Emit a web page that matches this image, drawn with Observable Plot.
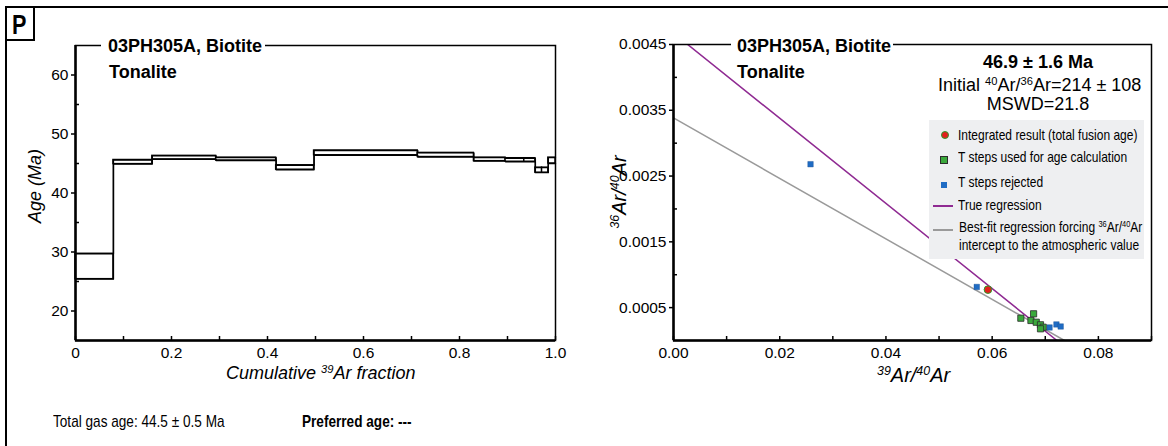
<!DOCTYPE html>
<html><head><meta charset="utf-8">
<script src="https://cdn.jsdelivr.net/npm/d3@7"></script>
<script src="https://cdn.jsdelivr.net/npm/@observablehq/plot@0.6"></script>
<style>
body{margin:0;background:#fff;font-family:"Liberation Sans",Arial,sans-serif;color:#000;}
#wrap{position:relative;width:1168px;height:446px;overflow:hidden;background:#fff;}
.abs{position:absolute;white-space:nowrap;line-height:1;}
.sup{position:relative;top:-0.55em;font-size:0.62em;}
#chartL,#chartR{position:absolute;top:0;}
#chartL{left:0;} #chartR{left:600px;}
.narrow{transform:scaleX(0.8);transform-origin:left center;}
</style></head>
<body><div id="wrap">
<div id="chartL"></div><div id="chartR"></div>
</div>
<script>
// ---------- Data ----------
// Age spectrum (left): step boundaries (cumulative 39Ar fraction) and age range per step (Ma)
const stepBounds = [0, 0.079, 0.160, 0.293, 0.418, 0.497, 0.713, 0.830, 0.896, 0.935, 0.958, 0.972, 0.985, 1.0];
const ageLow  = [25.4, 44.9, 45.7, 45.5, 43.95, 46.4, 46.1, 45.4, 45.3, 45.3, 43.45, 43.45, 45.0];
const ageHigh = [29.7, 45.6, 46.3, 46.0, 44.7, 47.2, 46.8, 46.0, 45.9, 45.9, 44.3, 44.3, 46.0];
const ageTicksMajor = [20, 30, 40, 50, 60];
const ageTicksMinor = [25, 35, 45, 55];
const fracTicksMajor = [0, 0.2, 0.4, 0.6, 0.8, 1.0];
const fracTicksMinor = [0.1, 0.3, 0.5, 0.7, 0.9];

// Isochron (right): 39Ar/40Ar vs 36Ar/40Ar
const usedX = [0.0654, 0.0678, 0.0673, 0.0683, 0.0691, 0.0696, 0.0691];
const usedY = [0.000339, 0.000406, 0.000304, 0.000278, 0.000239, 0.000202, 0.000178];
const rejX = [0.0258, 0.0571, 0.0708, 0.0721, 0.0729];
const rejY = [0.00268, 0.000814, 0.000198, 0.000244, 0.000213];
const integX = [0.0592];
const integY = [0.000773];
const trueRegX = [0, 0.0722];
const trueRegY = [0.004673, 0];
const atmRegX = [0, 0.0736];
const atmRegY = [0.003384, 0];
const isoYMajor = [0.0005, 0.0015, 0.0025, 0.0035, 0.0045];
const isoYMinor = [0.001, 0.002, 0.003, 0.004];
const isoXMajor = [0, 0.02, 0.04, 0.06, 0.08];
const isoXMinor = [0.01, 0.03, 0.05, 0.07, 0.09];

const FONT = '"Liberation Sans", Arial, sans-serif';
const PURPLE = "#8f2a92", GRAY = "#9a9a9a", GREEN = "#3aa83c", BLUE = "#1f6cc4", RED = "#e3201b";

// ---------- Left chart ----------
const steps = ageLow.map((lo, i) => ({x1: stepBounds[i], x2: stepBounds[i+1], lo, hi: ageHigh[i]}));
const upper = steps.map(s => ({x: s.x1, y: s.hi})).concat([{x: stepBounds[stepBounds.length-1], y: ageHigh[ageHigh.length-1]}]);
const lower = steps.map(s => ({x: s.x1, y: s.lo})).concat([{x: stepBounds[stepBounds.length-1], y: ageLow[ageLow.length-1]}]);

const left = Plot.plot({
  width: 580, height: 446,
  marginLeft: 75, marginRight: 25, marginTop: 45, marginBottom: 106,
  style: {fontFamily: FONT, fontSize: "15px", color: "#000", background: "transparent"},
  x: {domain: [0, 1]},
  y: {domain: [15, 65]},
  marks: [
    Plot.rect(steps, {x1: "x1", x2: "x2", y1: "lo", y2: "hi", fill: "white", stroke: "#000", strokeWidth: 1.4}),
    Plot.line(upper, {x: "x", y: "y", curve: "step-after", stroke: "#000", strokeWidth: 1.4}),
    Plot.line(lower, {x: "x", y: "y", curve: "step-after", stroke: "#000", strokeWidth: 1.4}),
    Plot.frame({stroke: "#000", strokeWidth: 1.5}),
    Plot.ruleX([0], {stroke: "#000", strokeWidth: 2.5}),
    Plot.ruleY([15], {stroke: "#000", strokeWidth: 2.5}),
    Plot.axisY({ticks: ageTicksMajor, tickSize: 4, tickPadding: 3, strokeWidth: 1.5, fontSize: 15.5, label: null, tickFormat: d => String(d)}),
    Plot.axisY({ticks: ageTicksMinor, tickSize: -4, strokeWidth: 1.5, label: null, tickFormat: () => ""}),
    Plot.axisX({ticks: fracTicksMajor, tickSize: -4, tickPadding: 10, strokeWidth: 1.5, fontSize: 15.5, label: null, tickFormat: d => d === 0 ? "0" : d.toFixed(1)}),
    Plot.axisX({ticks: fracTicksMinor, tickSize: -4, strokeWidth: 1.5, label: null, tickFormat: () => ""})
  ]
});
document.getElementById("chartL").appendChild(left);

// ---------- Right chart ----------
const used = usedX.map((x, i) => ({x, y: usedY[i]}));
const rej = rejX.map((x, i) => ({x, y: rejY[i]}));
const integ = integX.map((x, i) => ({x, y: integY[i]}));
const trueReg = trueRegX.map((x, i) => ({x, y: trueRegY[i]}));
const atmReg = atmRegX.map((x, i) => ({x, y: atmRegY[i]}));

const right = Plot.plot({
  width: 568, height: 446,
  marginLeft: 73, marginRight: 17, marginTop: 44, marginBottom: 106,
  style: {fontFamily: FONT, fontSize: "15px", color: "#000", background: "transparent"},
  x: {domain: [0, 0.09]},
  y: {domain: [0, 0.0045]},
  marks: [
    Plot.line(atmReg, {x: "x", y: "y", stroke: GRAY, strokeWidth: 1.5, clip: true}),
    Plot.line(trueReg, {x: "x", y: "y", stroke: PURPLE, strokeWidth: 1.5, clip: true}),
    Plot.dot(rej, {x: "x", y: "y", symbol: "square", r: 3.1, fill: BLUE, stroke: "#1a4f8f", strokeWidth: 0.4}),
    Plot.dot(used, {x: "x", y: "y", symbol: "square", r: 3.5, fill: GREEN, stroke: "#2b2b2b", strokeWidth: 0.8}),
    Plot.dot(integ, {x: "x", y: "y", r: 3.8, fill: RED, stroke: "#2c9a2c", strokeWidth: 1}),
    Plot.frame({stroke: "#000", strokeWidth: 1.5}),
    Plot.ruleX([0], {stroke: "#000", strokeWidth: 2.5}),
    Plot.ruleY([0], {stroke: "#000", strokeWidth: 2.5}),
    Plot.axisY({ticks: isoYMajor, tickSize: 4, tickPadding: 3, strokeWidth: 1.5, fontSize: 15.5, label: null, tickFormat: d => d.toFixed(4)}),
    Plot.axisY({ticks: isoYMinor, tickSize: -4, strokeWidth: 1.5, label: null, tickFormat: () => ""}),
    Plot.axisX({ticks: isoXMajor, tickSize: -4, tickPadding: 10, strokeWidth: 1.5, fontSize: 15.5, label: null, tickFormat: d => d.toFixed(2)}),
    Plot.axisX({ticks: isoXMinor, tickSize: -4, strokeWidth: 1.5, label: null, tickFormat: () => ""})
  ]
});
document.getElementById("chartR").appendChild(right);

// ---------- Text overlays ----------
const wrap = document.getElementById("wrap");
function addText(html, opts) {
  const d = document.createElement("div");
  d.className = "abs" + (opts.cls ? " " + opts.cls : "");
  d.innerHTML = html;
  const fs = opts.size || 15;
  d.style.fontSize = fs + "px";
  if (opts.bold) d.style.fontWeight = "bold";
  if (opts.italic) d.style.fontStyle = "italic";
  if (opts.bg) { d.style.background = opts.bg; }
  if (opts.pad) d.style.padding = opts.pad;
  if (opts.baseline !== undefined) d.style.top = (opts.baseline - 0.8465 * fs) + "px";
  if (opts.top !== undefined) d.style.top = opts.top + "px";
  if (opts.left !== undefined) d.style.left = opts.left + "px";
  if (opts.width !== undefined) { d.style.width = opts.width + "px"; d.style.textAlign = "center"; }
  if (opts.transform) d.style.transform = opts.transform;
  if (opts.origin) d.style.transformOrigin = opts.origin;
  wrap.appendChild(d);
  return d;
}
function addBox(style) {
  const d = document.createElement("div");
  d.style.position = "absolute";
  Object.assign(d.style, style);
  wrap.appendChild(d);
  return d;
}

// outer frame and panel letter box
addBox({left: "5px", top: "6px", width: "1200px", height: "500px", borderLeft: "2px solid #000", borderTop: "2px solid #000"});
addBox({left: "5px", top: "6px", width: "28px", height: "33px", borderRight: "2px solid #000", borderBottom: "2px solid #000"});
addText("P", {size: 27, bold: true, left: 12, baseline: 35, transform: "scaleX(0.8)", origin: "left center"});

// titles
addText("03PH305A, Biotite", {size: 18, bold: true, left: 101, baseline: 52, bg: "#fff", pad: "0 3px 0 7px"});
addText("Tonalite", {size: 18, bold: true, left: 109, baseline: 78});
addText("03PH305A, Biotite", {size: 18, bold: true, left: 731, baseline: 52, bg: "#fff", pad: "0 2px 0 6px"});
addText("Tonalite", {size: 18, bold: true, left: 737, baseline: 78});

// axis labels
const S = t => `<span class="sup">${t}</span>`;
addText("Age (Ma)", {size: 18, italic: true, left: 35, top: 186, transform: "translate(-50%,-50%) rotate(-90deg)"});
addText(`Cumulative ${S("39")}Ar fraction`, {size: 18, italic: true, left: 226, baseline: 379});
addText(`${S("36")}Ar/${S("40")}Ar`, {size: 20, italic: true, left: 619, top: 192, transform: "translate(-50%,-50%) rotate(-90deg)"});
addText(`${S("39")}Ar/${S("40")}Ar`, {size: 20, italic: true, left: 877, baseline: 382});

// stats block
addText("46.9 ± 1.6 Ma", {size: 18, bold: true, left: 938, width: 200, baseline: 68});
addText(`Initial ${S("40")}Ar/${S("36")}Ar=214 ± 108`, {size: 18, left: 938, width: 200, baseline: 91.5});
addText("MSWD=21.8", {size: 18, left: 938, width: 200, baseline: 110});

// legend
addBox({left: "929px", top: "120px", width: "215px", height: "139px", background: "#eeeff1"});
addBox({left: "940.5px", top: "131px", width: "6px", height: "6px", borderRadius: "50%", background: RED, border: "1px solid #2c9a2c"});
addBox({left: "940px", top: "156px", width: "6px", height: "6px", background: GREEN, border: "1px solid #2b2b2b"});
addBox({left: "940.5px", top: "181.5px", width: "6px", height: "6px", background: BLUE});
addBox({left: "933px", top: "204.8px", width: "20px", height: "2px", background: PURPLE});
addBox({left: "933px", top: "229px", width: "20px", height: "2px", background: GRAY});
addText("Integrated result (total fusion age)", {size: 15, left: 958, baseline: 139.5, cls: "narrow"});
addText("T steps used for age calculation", {size: 15, left: 958, baseline: 162, cls: "narrow"});
addText("T steps rejected", {size: 15, left: 958, baseline: 187, cls: "narrow"});
addText("True regression", {size: 15, left: 958, baseline: 210, cls: "narrow"});
addText(`Best-fit regression forcing ${S("36")}Ar/${S("40")}Ar`, {size: 15, left: 959, baseline: 232, cls: "narrow"});
addText("intercept to the atmospheric value", {size: 15, left: 959, baseline: 249.5, cls: "narrow"});

// bottom texts
addText("Total gas age: 44.5 ± 0.5 Ma", {size: 17, left: 53, baseline: 427, transform: "scaleX(0.8)", origin: "left center"});
addText("Preferred age: ---", {size: 17, bold: true, left: 302, baseline: 427, transform: "scaleX(0.8)", origin: "left center"});
</script>
</body></html>
